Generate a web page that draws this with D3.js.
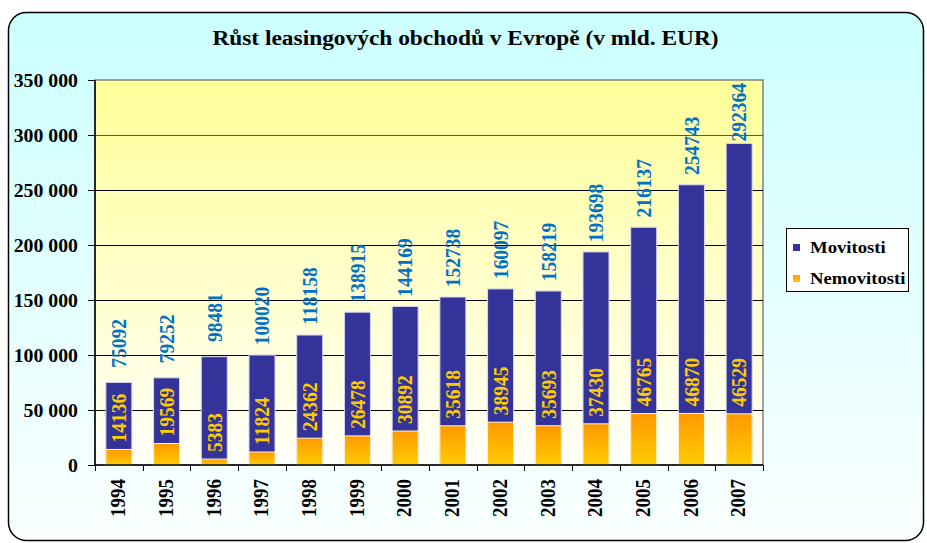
<!DOCTYPE html>
<html><head><meta charset="utf-8">
<script src="https://cdn.jsdelivr.net/npm/d3@7"></script>
<style>html,body{margin:0;padding:0;background:#fff;}svg{display:block;}</style>
</head><body>
<svg id="chart" width="927" height="543"></svg>
<script>
const title = "Růst leasingových obchodů v Evropě (v mld. EUR)";
const years = ["1994","1995","1996","1997","1998","1999","2000","2001","2002","2003","2004","2005","2006","2007"];
const movitosti = [75092,79252,98481,100020,118158,138915,144169,152738,160097,158219,193698,216137,254743,292364];
const nemovitosti = [14136,19569,5383,11824,24362,26478,30892,35618,38945,35693,37430,46765,46870,46529];
const yTicks = [0,50000,100000,150000,200000,250000,300000,350000];
const seriesNames = ["Movitosti","Nemovitosti"];

const SX = 1.1;
const FONT = "'Liberation Serif','Times New Roman',serif";
const svg = d3.select("#chart");
const defs = svg.append("defs");

const bgG = defs.append("linearGradient").attr("id","bgG").attr("x1",0).attr("y1",0).attr("x2",0).attr("y2",1);
bgG.append("stop").attr("offset",0).attr("stop-color","#CCFFFF");
bgG.append("stop").attr("offset",1).attr("stop-color","#FAFFFF");
const plotG = defs.append("linearGradient").attr("id","plotG").attr("x1",0).attr("y1",0).attr("x2",0).attr("y2",1);
plotG.append("stop").attr("offset",0).attr("stop-color","#FFFF99");
plotG.append("stop").attr("offset",1).attr("stop-color","#FFFFFA");
const orG = defs.append("linearGradient").attr("id","orG").attr("x1",0).attr("y1",0).attr("x2",0).attr("y2",1);
orG.append("stop").attr("offset",0).attr("stop-color","#FF9900");
orG.append("stop").attr("offset",1).attr("stop-color","#FFCC00");

// outer frame
svg.append("rect").attr("x",8.5).attr("y",12.5).attr("width",915).attr("height",528)
  .attr("rx",18).attr("ry",18).attr("fill","url(#bgG)").attr("stroke","#000").attr("stroke-width",1.5);

const pLeft = 95, pRight = 763, pTop = 80, pBottom = 465;
const x = d3.scaleBand().domain(years).range([pLeft,pRight]).paddingInner(0.455).paddingOuter(0.2275);
const y = d3.scaleLinear().domain([0,350000]).range([pBottom,pTop]);

function tf(px,py,rot,sx){ return `translate(${px},${py}) scale(${sx||SX},1)` + (rot ? " rotate(-90)" : ""); }

// title
svg.append("text").attr("transform",tf(465.5,45,false,1.17)).attr("text-anchor","middle")
  .attr("font-family",FONT).attr("font-weight","bold").attr("font-size",20).attr("fill","#000").text(title);

// plot area
svg.append("rect").attr("x",pLeft).attr("y",pTop).attr("width",pRight-pLeft).attr("height",pBottom-pTop)
  .attr("fill","url(#plotG)").attr("stroke","#808080").attr("stroke-width",1.5);

// gridlines
svg.append("g").selectAll("line").data(yTicks.filter(d=>d>0 && d<350000)).join("line")
  .attr("x1",pLeft).attr("x2",pRight).attr("y1",d=>Math.round(y(d))+0.5).attr("y2",d=>Math.round(y(d))+0.5)
  .attr("stroke",d=>d===300000?"#555":"#000").attr("stroke-width",1);

// bars
const bars = svg.append("g");
bars.selectAll("rect.mov").data(years).join("rect").attr("class","mov")
  .attr("x",d=>x(d)).attr("width",x.bandwidth())
  .attr("y",(d,i)=>y(movitosti[i])).attr("height",(d,i)=>y(0)-y(movitosti[i]))
  .attr("fill","#333399").attr("stroke","#D8D8F0").attr("stroke-width",1);
bars.selectAll("rect.nem").data(years).join("rect").attr("class","nem")
  .attr("x",d=>x(d)).attr("width",x.bandwidth())
  .attr("y",(d,i)=>y(nemovitosti[i])).attr("height",(d,i)=>y(0)-y(nemovitosti[i]))
  .attr("fill","url(#orG)").attr("stroke","#FFF2D0").attr("stroke-width",1);

// y axis
const yAxisG = svg.append("g");
yAxisG.append("line").attr("x1",pLeft).attr("x2",pLeft).attr("y1",pTop).attr("y2",pBottom).attr("stroke","#000").attr("stroke-width",1.5);
yAxisG.selectAll("line.t").data(yTicks).join("line").attr("class","t")
  .attr("x1",pLeft-7).attr("x2",pLeft).attr("y1",d=>Math.round(y(d))+0.5).attr("y2",d=>Math.round(y(d))+0.5).attr("stroke","#000");
const loc = d3.formatLocale({decimal:",",thousands:" ",grouping:[3],currency:["",""]});
const fmt = loc.format(",");
yAxisG.selectAll("text").data(yTicks).join("text")
  .attr("transform",d=>tf(78,y(d)+1)).attr("text-anchor","end").attr("dominant-baseline","central")
  .attr("font-family",FONT).attr("font-weight","bold").attr("font-size",18).attr("fill","#000").text(d=>fmt(d));

// x axis
const xAxisG = svg.append("g");
xAxisG.append("line").attr("x1",pLeft).attr("x2",pRight).attr("y1",pBottom).attr("y2",pBottom).attr("stroke","#000").attr("stroke-width",1.5);
const edges = d3.range(years.length+1).map(i=> pLeft + i*(pRight-pLeft)/years.length);
xAxisG.selectAll("line.t").data(edges).join("line").attr("class","t")
  .attr("x1",d=>Math.round(d)+0.5).attr("x2",d=>Math.round(d)+0.5).attr("y1",pBottom).attr("y2",pBottom+6).attr("stroke","#000");
xAxisG.selectAll("text").data(years).join("text")
  .attr("transform",d=>tf(x(d)+x.bandwidth()/2-1,479,true)).attr("text-anchor","end").attr("dominant-baseline","central")
  .attr("font-family",FONT).attr("font-weight","bold").attr("font-size",19).attr("fill","#000").text(d=>d);

// value labels
const lab = svg.append("g");
lab.selectAll("text.mv").data(years).join("text").attr("class","mv")
  .attr("text-anchor","middle").attr("dominant-baseline","central")
  .attr("font-family",FONT).attr("font-weight","bold").attr("font-size",19.5).attr("fill","#0070C8")
  .text((d,i)=>movitosti[i])
  .each(function(d,i){
    const L = this.getComputedTextLength();
    let cy = y(movitosti[i]) - 39;
    if (cy - L/2 < pTop + 3) cy = pTop + 3 + L/2;
    d3.select(this).attr("transform",tf(x(d)+x.bandwidth()/2,cy,true));
  });
lab.selectAll("text.nv").data(years).join("text").attr("class","nv")
  .attr("text-anchor","start").attr("dominant-baseline","central")
  .attr("font-family",FONT).attr("font-weight","bold").attr("font-size",19.5).attr("fill","#FFCC00")
  .attr("transform",(d,i)=>tf(x(d)+x.bandwidth()/2,y(nemovitosti[i])-7,true))
  .text((d,i)=>nemovitosti[i]);

// legend
const lg = svg.append("g");
lg.append("rect").attr("x",786.5).attr("y",228.5).attr("width",122).attr("height",63)
  .attr("fill","#fff").attr("stroke","#000").attr("stroke-width",1);
const colors = ["#333399","url(#orG)"];
seriesNames.forEach((n,i)=>{
  lg.append("rect").attr("x",793).attr("y",244+i*31).attr("width",7).attr("height",7).attr("fill",colors[i]);
  lg.append("text").attr("transform",tf(810,253+i*31)).attr("font-family",FONT).attr("font-weight","bold")
    .attr("font-size",17).attr("fill","#000").text(n);
});
</script>
</body></html>
